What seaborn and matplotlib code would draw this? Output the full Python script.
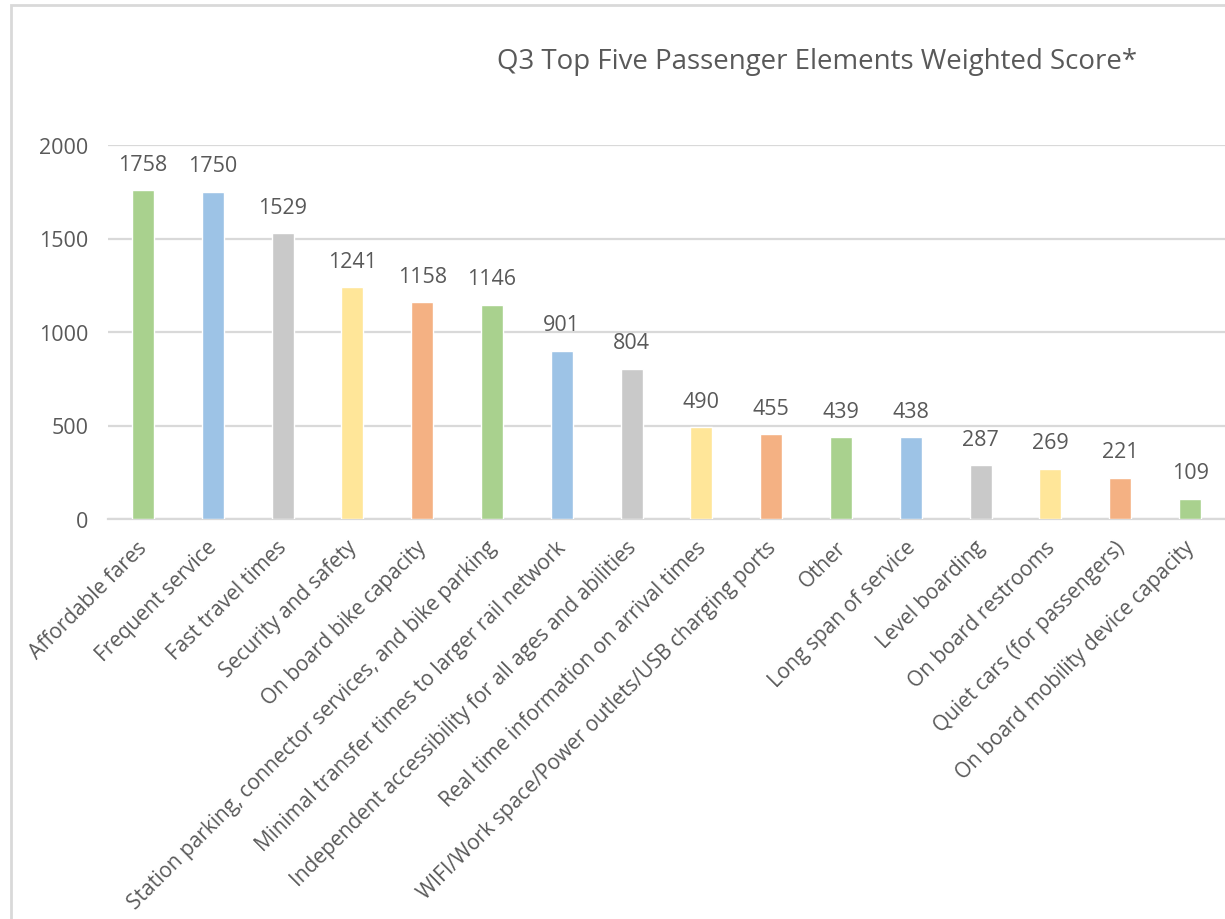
import matplotlib
matplotlib.use("Agg")
import matplotlib.pyplot as plt
import matplotlib.transforms as mtransforms
from matplotlib.patches import Rectangle
import seaborn as sns
import pandas as pd

categories = [
    "Affordable fares",
    "Frequent service",
    "Fast travel times",
    "Security and safety",
    "On board bike capacity",
    "Station parking, connector services, and bike parking",
    "Minimal transfer times to larger rail network",
    "Independent accessibility for all ages and abilities",
    "Real time information on arrival times",
    "WIFI/Work space/Power outlets/USB charging ports",
    "Other",
    "Long span of service",
    "Level boarding",
    "On board restrooms",
    "Quiet cars (for passengers)",
    "On board mobility device capacity",
]
scores = [1758, 1750, 1529, 1241, 1158, 1146, 901, 804, 490, 455, 439, 438, 287, 269, 221, 109]
yticks = [0, 500, 1000, 1500, 2000]
title = "Q3 Top Five Passenger Elements Weighted Score*"

cycle = ["#A9D18E", "#9DC3E6", "#C9C9C9", "#FFE699", "#F4B183"]
palette = [cycle[i % len(cycle)] for i in range(len(categories))]

df = pd.DataFrame({"element": categories, "score": scores})

sns.set_theme(style="white")
plt.rcParams["font.family"] = ["Open Sans", "DejaVu Sans"]
text_color = "#595959"
grid_color = "#D9D9D9"

W, H = 1225, 920
fig = plt.figure(figsize=(W / 100, H / 100), dpi=100)
fig.patch.set_facecolor("white")

# outer chart frame (runs off the right and bottom edges)
fig.patches.append(Rectangle((11 / W, -0.1), 1.2, 1 - 6 / H + 0.1,
                             transform=fig.transFigure, fill=False,
                             edgecolor=grid_color, linewidth=2.0, zorder=0))

ax = fig.add_axes([108 / W, 1 - 520 / H, (W - 108) / W, (520 - 146) / H])
sns.barplot(data=df, x="element", y="score", hue="element", palette=palette,
            legend=False, width=0.315, saturation=1, ax=ax, zorder=3)

ax.set_xlim(-0.5, len(categories) - 0.5)
ax.set_ylim(0, 2000)
ax.set_yticks(yticks)
ax.set_yticklabels([str(t) for t in yticks])
ax.yaxis.grid(True, color=grid_color, linewidth=1.6, zorder=0)
ax.set_axisbelow(True)
for s in ["top", "right", "left"]:
    ax.spines[s].set_visible(False)
ax.spines["bottom"].set_color(grid_color)
ax.spines["bottom"].set_linewidth(1.6)
ax.set_xlabel("")
ax.set_ylabel("")
ax.tick_params(axis="y", length=0, pad=14, labelsize=15.5, labelcolor=text_color)
ax.tick_params(axis="x", length=0, pad=9)
ax.set_xticks(range(len(categories)))
ax.set_xticklabels(categories, rotation=45, ha="right", va="top",
                   rotation_mode="anchor", fontsize=15, color=text_color)
shift = mtransforms.ScaledTranslation(-6 / 100, -5 / 100, fig.dpi_scale_trans)
for lbl in ax.get_xticklabels():
    lbl.set_transform(lbl.get_transform() + shift)

for i, v in enumerate(scores):
    ax.annotate(str(v), (i, v), xytext=(0, 11), textcoords="offset points",
                ha="center", va="bottom", fontsize=15.5, color=text_color)

fig.text(817 / W, 1 - 62 / H, title, ha="center", va="center",
         fontsize=19.9, color=text_color)

fig.savefig("out.png", dpi=100)
